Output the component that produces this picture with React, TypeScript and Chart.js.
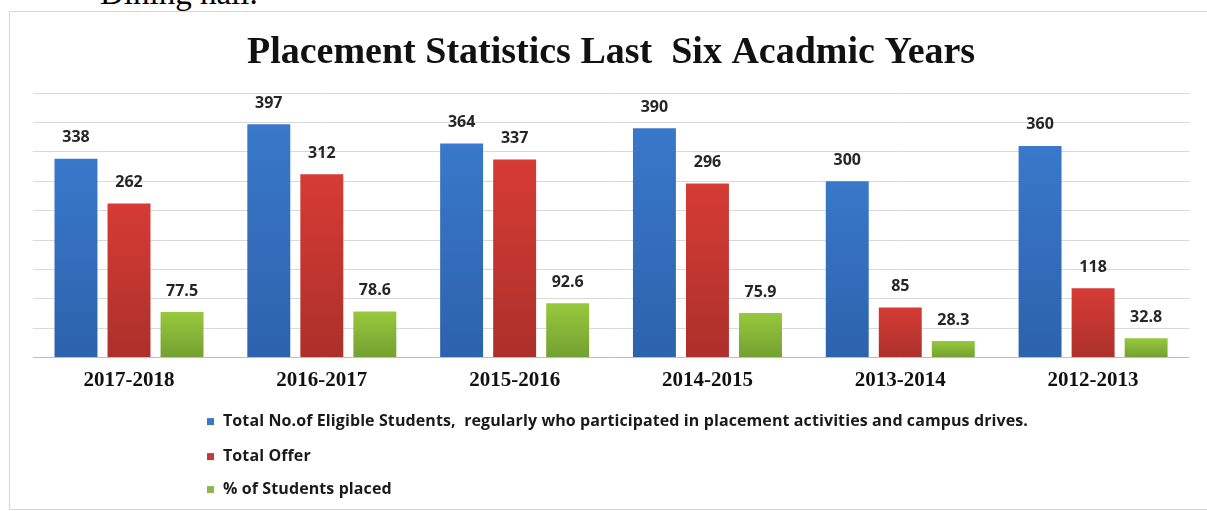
import React, { useEffect, useRef } from 'react';
import { Chart, registerables } from 'chart.js';

Chart.register(...registerables);

// ---- Data ----
const years = ['2017-2018', '2016-2017', '2015-2016', '2014-2015', '2013-2014', '2012-2013'];
const eligibleStudents = [338, 397, 364, 390, 300, 360];
const totalOffers = [262, 312, 337, 296, 85, 118];
const percentPlaced = [77.5, 78.6, 92.6, 75.9, 28.3, 32.8];
const seriesNames = [
  'Total No.of Eligible Students,  regularly who participated in placement activities and campus drives.',
  'Total Offer',
  '% of Students placed',
];
const chartTitle = 'Placement Statistics Last  Six Acadmic Years';
const pageHeading = 'Dining hall.';
const yMax = 450;
const yStep = 50;

// ---- Styles ----
const barTops = ['#3978CA', '#D63B35', '#98C83D'];
const barBottoms = ['#2D62AC', '#AC302A', '#74A031'];
const legendColors = ['#3B76C6', '#C33A36', '#8BB849'];

function barGradient(top: string, bottom: string) {
  return (c: any) => {
    const chart = c.chart;
    const y = chart.scales && chart.scales.y;
    if (c.type !== 'data' || !y || !chart.chartArea) return bottom;
    const v = c.raw as number;
    const yTop = y.getPixelForValue(v);
    const yBase = y.getPixelForValue(0);
    if (!isFinite(yTop) || !isFinite(yBase) || yBase - yTop < 1) return top;
    const g = chart.ctx.createLinearGradient(0, yTop, 0, yBase);
    g.addColorStop(0, top);
    g.addColorStop(1, bottom);
    return g;
  };
}

const valueLabels = {
  id: 'valueLabels',
  afterDatasetsDraw(chart: any) {
    const ctx = chart.ctx;
    ctx.save();
    ctx.font = '700 16px "Open Sans"';
    ctx.fillStyle = '#262626';
    ctx.textAlign = 'center';
    ctx.textBaseline = 'middle';
    chart.data.datasets.forEach((ds: any, i: number) => {
      const meta = chart.getDatasetMeta(i);
      meta.data.forEach((el: any, j: number) => {
        ctx.fillText(String(ds.data[j]), el.x, el.y - 21);
      });
    });
    ctx.restore();
  },
};

const stackedLegend = {
  id: 'stackedLegend',
  afterDraw(chart: any) {
    const { ctx, chartArea } = chart;
    const rowOffsets = [64, 99, 132];
    ctx.save();
    ctx.font = '700 16px "Open Sans"';
    try { (ctx as any).letterSpacing = '0.1px'; } catch (e) { /* ignore */ }
    ctx.textBaseline = 'middle';
    ctx.textAlign = 'left';
    chart.data.datasets.forEach((ds: any, i: number) => {
      const y = chartArea.bottom + rowOffsets[i];
      ctx.fillStyle = legendColors[i];
      ctx.fillRect(197, y - 3.5, 7, 7);
      ctx.fillStyle = '#1a1a1a';
      ctx.fillText(ds.label, 213, y);
    });
    ctx.restore();
  },
};

export default function App() {
  const canvasRef = useRef<HTMLCanvasElement | null>(null);

  useEffect(() => {
    if (!canvasRef.current) return;
    const seriesValues = [eligibleStudents, totalOffers, percentPlaced];
    const chart = new Chart(canvasRef.current, {
      type: 'bar',
      data: {
        labels: years,
        datasets: seriesValues.map((vals, i) => ({
          label: seriesNames[i],
          data: vals,
          backgroundColor: barGradient(barTops[i], barBottoms[i]) as any,
          borderWidth: 0,
          categoryPercentage: 0.825,
          barPercentage: 0.81,
        })),
      },
      options: {
        responsive: false,
        animation: false,
        devicePixelRatio: 1,
        layout: { padding: { left: 22.6, right: 17.5, top: 0, bottom: 105.4 } },
        plugins: {
          legend: { display: false },
          tooltip: { enabled: false },
          title: {
            display: true,
            text: chartTitle,
            color: '#111111',
            font: { family: '"Liberation Serif", "Times New Roman", serif', size: 38, weight: 'bold', lineHeight: 1.2 },
            padding: { top: 18.2, bottom: 17.2 },
          },
        },
        scales: {
          x: {
            grid: { display: false, drawTicks: false },
            border: { display: false },
            ticks: {
              color: '#111111',
              padding: 10.4,
              font: { family: '"Liberation Serif", "Times New Roman", serif', size: 21, weight: 'bold', lineHeight: 1.2 },
            },
          },
          y: {
            min: 0,
            max: yMax,
            ticks: { display: false, stepSize: yStep },
            grid: {
              drawTicks: false,
              color: (c: any) => (c.tick && c.tick.value === 0 ? '#BDBDBD' : '#D9D9D9'),
              lineWidth: 1,
            },
            border: { display: false },
          },
        },
      },
      plugins: [valueLabels, stackedLegend],
    });
    return () => chart.destroy();
  }, []);

  return (
    <div style={{ position: 'absolute', left: 0, top: 0, width: 1207, height: 511, overflow: 'hidden', background: '#ffffff' }}>
      <div
        style={{
          position: 'absolute',
          left: 100,
          top: -23,
          fontFamily: '"Liberation Serif", "Times New Roman", serif',
          fontSize: 33,
          lineHeight: '33px',
          color: '#000',
          whiteSpace: 'nowrap',
        }}
      >
        {pageHeading}
      </div>
      <div
        style={{
          position: 'absolute',
          left: 9,
          top: 11,
          width: 1210,
          height: 497,
          border: '1.5px solid #D6D6D6',
          background: '#ffffff',
        }}
      />
      <canvas
        ref={canvasRef}
        width={1197}
        height={497}
        style={{ position: 'absolute', left: 10, top: 12, width: 1197, height: 497 }}
      />
    </div>
  );
}
